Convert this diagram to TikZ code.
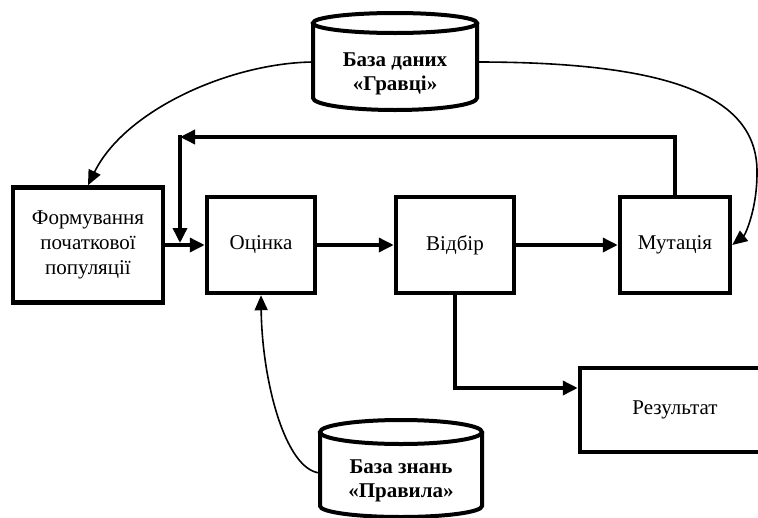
\documentclass[tikz,border=0pt]{standalone}
\usepackage{fontspec}
\setmainfont{Liberation Serif}
\usetikzlibrary{arrows.meta}
\begin{document}
\begin{tikzpicture}[x=1pt,y=-1pt,
 box/.style={draw,line width=4.5pt,rectangle,inner sep=0pt,font=\fontsize{21}{25}\selectfont,align=center},
 flow/.style={line width=3.5pt,-{Triangle[length=15pt,width=14pt]}},
 thinarr/.style={line width=1.6pt,-{Triangle[length=15pt,width=13pt]}},
 cyl/.style={line width=4pt},
 dbtext/.style={font=\fontsize{21}{24}\selectfont\bfseries,align=center,inner sep=0pt}]
\useasboundingbox (0,0) rectangle (758,517);
% boxes
\node[box,minimum width=150pt,minimum height=115pt] (form) at (88,245) {Формування\\початкової\\популяції};
\node[box,minimum width=108pt,minimum height=96pt] (ocinka) at (261,245) {Оцінка};
\node[box,minimum width=118pt,minimum height=96pt] (vid) at (455,245) {Відбір};
\node[box,minimum width=110pt,minimum height=96pt] (mut) at (675,245) {Мутація};
\node[box,minimum width=190pt,minimum height=84pt] (res) at (675,410) {Результат};
% top cylinder
\draw[cyl] (313,23) -- (313,98) arc[start angle=180,end angle=360,x radius=82pt,y radius=12pt] -- (477,23);
\draw[cyl] (395,23) ellipse [x radius=82pt,y radius=10pt];
\node[dbtext] (db) at (395,73.5) {База даних\\«Гравці»};
\coordinate (dbW) at (313,62);
\coordinate (dbE) at (477,62);
% bottom cylinder
\draw[cyl] (320,432) -- (320,506) arc[start angle=180,end angle=360,x radius=81pt,y radius=11pt] -- (482,432);
\draw[cyl] (401,432) ellipse [x radius=81pt,y radius=12pt];
\node[dbtext] (kb) at (401,480.5) {База знань\\«Правила»};
\coordinate (kbW) at (320,473);
% main flow
\draw[flow] (form.east) -- (ocinka.west);
\draw[flow] (ocinka.east) -- (vid.west);
\draw[flow] (vid.east) -- (mut.west);
\draw[flow] (vid.south) |- ([yshift=22pt]res.west);
% feedback loop
\coordinate (fbC) at (180,137);
\coordinate (fbC2) at (180,135.25);
\coordinate (fbE) at (180,243);
\draw[flow] (mut.north) |- (fbC);
\draw[flow] (fbC2) -- (fbE);
% thin curves
\draw[thinarr] (dbW) .. controls (230,63) and (125,110) .. (form.north);
\draw[thinarr] (dbE) .. controls (680,62) and (758,100) .. (757,173) .. controls (757,210) and (745,235) .. (mut.east);
\draw[thinarr] (kbW) .. controls (285,470) and (262,380) .. (ocinka.south);
\end{tikzpicture}
\end{document}
